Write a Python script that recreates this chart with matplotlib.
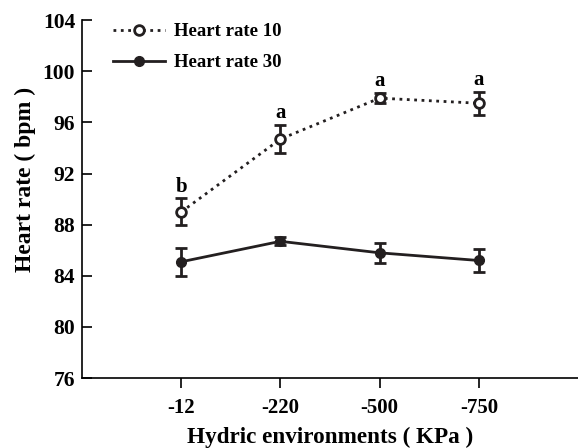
import matplotlib
matplotlib.use("Agg")
import matplotlib.pyplot as plt
from matplotlib.lines import Line2D

plt.rcParams["font.family"] = ["Liberation Serif", "DejaVu Serif"]
plt.rcParams["font.weight"] = "bold"

categories = ["-12", "-220", "-500", "-750"]
hr10 = [89.0, 94.7, 97.9, 97.5]
hr10_err = [1.05, 1.1, 0.4, 0.9]
hr30 = [85.1, 86.7, 85.8, 85.2]
hr30_err = [1.1, 0.3, 0.8, 0.9]
letters = ["b", "a", "a", "a"]

x = [1, 2, 3, 4]
col = "#231f20"

fig = plt.figure(figsize=(5.78, 4.48), dpi=100)
ax = fig.add_axes([0.142, 0.156, 0.858, 0.799])

ax.errorbar(x, hr10, yerr=hr10_err, color=col, linestyle=":", linewidth=2,
            marker="o", markersize=7, markerfacecolor="white", markeredgewidth=2,
            capsize=4, capthick=2, elinewidth=2)
ax.errorbar(x, hr30, yerr=hr30_err, color=col, linestyle="-", linewidth=2,
            marker="o", markersize=7, markerfacecolor=col,
            capsize=4, capthick=2, elinewidth=2)

for xi, yi, e, t in zip(x, hr10, hr10_err, letters):
    ax.text(xi, yi + e + 0.15, t, ha="center", va="bottom", fontsize=15, fontweight="bold")

ax.set_xlim(0, 5)
ax.set_ylim(76, 104)
ax.set_yticks(range(76, 105, 4))
ax.set_xticks(x)
ax.set_xticklabels(categories)
ax.spines["top"].set_visible(False)
ax.spines["right"].set_visible(False)
ax.spines["left"].set_linewidth(1.2)
ax.spines["bottom"].set_linewidth(1.2)
ax.tick_params(axis="y", direction="in", length=7, width=1.2, labelsize=15.5, pad=5)
ax.tick_params(axis="x", direction="out", length=7, width=1.2, labelsize=15, pad=7)

ax.set_xlabel("Hydric environments ( KPa )", fontsize=16.7, fontweight="bold", labelpad=7)
ax.set_ylabel("Heart rate ( bpm )", fontsize=17, fontweight="bold")
ax.yaxis.set_label_coords(-0.093, 0.556)

handles = [
    Line2D([], [], color=col, linestyle=":", linewidth=2, marker="o", markersize=7,
           markerfacecolor="white", markeredgewidth=2),
    Line2D([], [], color=col, linestyle="-", linewidth=2, marker="o", markersize=7,
           markerfacecolor=col),
]
ax.legend(handles, ["Heart rate 10", "Heart rate 30"], loc="upper left",
          bbox_to_anchor=(0.028, 1.039), frameon=False, fontsize=13.5,
          handlelength=2.8, handletextpad=0.45, labelspacing=0.75)

fig.savefig("out.png", dpi=100)
